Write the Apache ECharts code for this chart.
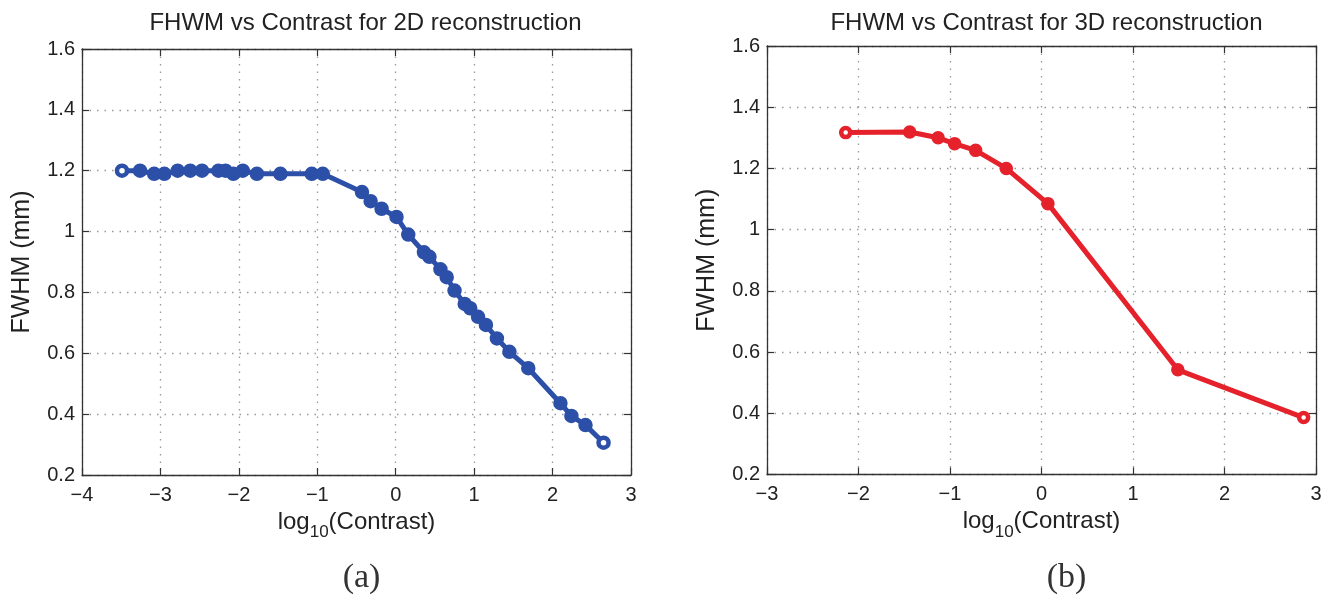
<!DOCTYPE html>
<html>
<head>
<meta charset="utf-8">
<title>FWHM vs Contrast</title>
<script src="https://cdn.jsdelivr.net/npm/echarts@6/dist/echarts.min.js"></script>
<style>
  html, body { margin: 0; padding: 0; background: #fff; }
  #chart { width: 1337px; height: 600px; }
</style>
</head>
<body>
<div id="chart"></div>
<script>
// log10(contrast) and FWHM (mm) for the 2D reconstruction
const contrast2D = [-3.49, -3.26, -3.08, -2.95, -2.78, -2.62, -2.47, -2.26, -2.17, -2.07, -1.95, -1.77,
  -1.47, -1.07, -0.93, -0.43, -0.32, -0.18, 0.01, 0.16, 0.36, 0.43, 0.57, 0.65, 0.75, 0.88, 0.95,
  1.05, 1.15, 1.29, 1.45, 1.69, 2.10, 2.24, 2.42, 2.65];
const fwhm2D = [1.20, 1.20, 1.19, 1.19, 1.20, 1.20, 1.20, 1.20, 1.20, 1.19, 1.20, 1.19,
  1.19, 1.19, 1.19, 1.13, 1.10, 1.075, 1.048, 0.99, 0.932, 0.917, 0.876, 0.85, 0.806, 0.762, 0.748,
  0.72, 0.693, 0.649, 0.605, 0.551, 0.436, 0.394, 0.364, 0.306];

// log10(contrast) and FWHM (mm) for the 3D reconstruction
const contrast3D = [-2.14, -1.44, -1.13, -0.95, -0.72, -0.385, 0.07, 1.49, 2.865];
const fwhm3D = [1.317, 1.319, 1.30, 1.281, 1.259, 1.20, 1.085, 0.542, 0.386];

// axis ranges [min, max, step]
const xRange2D = [-4, 3, 1];
const xRange3D = [-3, 3, 1];
const yRange = [0.2, 1.6, 0.2];

const titles = ['FHWM vs Contrast for 2D reconstruction', 'FHWM vs Contrast for 3D reconstruction'];
const panelTags = ['(a)', '(b)'];
const yName = 'FWHM (mm)';

const BLUE = '#2c4fa8';
const RED = '#e5222b';
const FONT = 'Liberation Sans, Arial, Helvetica, sans-serif';

const chart = echarts.init(document.getElementById('chart'));

const grids = [
  { left: 82, top: 49, width: 549, height: 426 },
  { left: 767, top: 46, width: 549, height: 428.5 }
];

function fmt(v) {
  const s = String(+v.toFixed(2));
  return v < 0 ? '\u2212' + s.slice(1) : s;
}

const axisLine = { show: true, onZero: false, lineStyle: { color: '#333', width: 1.3 } };
const tick = { show: true, inside: true, length: 7, lineStyle: { color: '#333', width: 1.2 } };
const grid = { show: true, lineStyle: { color: '#999', width: 1.3, type: [1.5, 6] } };
const label = { color: '#222', fontSize: 20, fontFamily: FONT };

function xAxes(gi, r) {
  return [{
    type: 'value', gridIndex: gi, min: r[0], max: r[1], interval: r[2], position: 'bottom',
    axisLine, axisTick: tick, splitLine: grid,
    axisLabel: Object.assign({ margin: 10, formatter: fmt }, label),
    name: '{m|log}{s|10}{m|(Contrast)}', nameLocation: 'middle', nameGap: 25,
    nameTextStyle: {
      rich: {
        m: { fontSize: 24, lineHeight: 24, fontFamily: FONT, color: '#222', verticalAlign: 'top' },
        s: { fontSize: 17, lineHeight: 17, padding: [14, 0, 0, 0], fontFamily: FONT, color: '#222', verticalAlign: 'top' }
      }
    }
  }, {
    type: 'value', gridIndex: gi, min: r[0], max: r[1], interval: r[2], position: 'top',
    axisLine, axisTick: tick, splitLine: { show: false }, axisLabel: { show: false }
  }];
}

function yAxes(gi) {
  return [{
    type: 'value', gridIndex: gi, min: yRange[0], max: yRange[1], interval: yRange[2], position: 'left',
    axisLine, axisTick: tick, splitLine: grid,
    axisLabel: Object.assign({ margin: 7, formatter: fmt }, label),
    name: yName, nameLocation: 'middle', nameGap: 47,
    nameTextStyle: { fontSize: 25, fontFamily: FONT, color: '#222' }
  }, {
    type: 'value', gridIndex: gi, min: yRange[0], max: yRange[1], interval: yRange[2], position: 'right',
    axisLine, axisTick: tick, splitLine: { show: false }, axisLabel: { show: false }
  }];
}

// end points are drawn as open circles, the rest as filled ones
function points(xs, ys, color) {
  return xs.map((x, i) => {
    const open = i === 0 || i === xs.length - 1;
    return { value: [x, ys[i]], itemStyle: { color: open ? '#fff' : color, borderColor: color, borderWidth: 4.5 } };
  });
}

function lineSeries(xi, yi, xs, ys, color, size) {
  return {
    type: 'line', xAxisIndex: xi, yAxisIndex: yi,
    data: points(xs, ys, color),
    symbol: 'circle', symbolSize: size, showAllSymbol: true,
    lineStyle: { color, width: 5 },
    itemStyle: { color, borderColor: color, borderWidth: 4.5 },
    emphasis: { disabled: true },
    z: 3
  };
}

const titleStyle = { fontSize: 24, fontWeight: 'normal', fontFamily: FONT, color: '#222' };
const tagStyle = { fontSize: 34, fontWeight: 'normal', fontFamily: 'Liberation Serif, serif', color: '#333' };

chart.setOption({
  animation: false,
  title: [
    { text: titles[0], left: grids[0].left + grids[0].width / 2 + 4, top: 6, textAlign: 'center', textStyle: titleStyle },
    { text: titles[1], left: grids[1].left + grids[1].width / 2, top: 6, textAlign: 'center', textStyle: titleStyle },
    { text: panelTags[0], left: grids[0].left + grids[0].width / 2, top: 556, textAlign: 'center', textStyle: tagStyle },
    { text: panelTags[1], left: grids[1].left + grids[1].width / 2 + 20, top: 556, textAlign: 'center', textStyle: tagStyle }
  ],
  grid: grids,
  xAxis: [...xAxes(0, xRange2D), ...xAxes(1, xRange3D)],
  yAxis: [...yAxes(0), ...yAxes(1)],
  series: [
    lineSeries(0, 0, contrast2D, fwhm2D, BLUE, 10),
    lineSeries(2, 2, contrast3D, fwhm3D, RED, 9)
  ]
});
</script>
</body>
</html>
